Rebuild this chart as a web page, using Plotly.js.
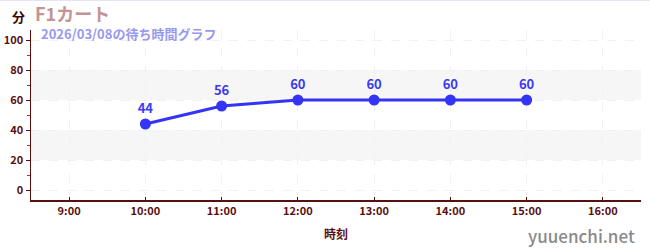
<!DOCTYPE html>
<html>
<head>
<meta charset="utf-8">
<script src="https://cdn.plot.ly/plotly-3.0.1.min.js"></script>
<style>
html,body{margin:0;padding:0;background:#fff;}
#chart{width:650px;height:250px;border-top:1px solid #e4e4f8;box-sizing:border-box;}
</style>
</head>
<body>
<div id="chart"></div>
<script>
const times = ['10:00', '11:00', '12:00', '13:00', '14:00', '15:00'];
const waits = [44, 56, 60, 60, 60, 60];
const dateStr = '2026-03-08';
const titleText = 'F1カート';
const subtitleText = '2026/03/08の待ち時間グラフ';
const yUnit = '分';
const xTitle = '時刻';
const watermark = 'yuuenchi.net';
const bands = [[20, 40], [60, 80]];

const FONT = '"Noto Sans CJK JP", "Noto Sans", sans-serif';
const AX = '#5a0f0f';
const BLUE = '#3434f5';

const xs = times.map(t => dateStr + ' ' + t);

const trace = {
  x: xs, y: waits, type: 'scatter', mode: 'lines+markers+text',
  line: {color: BLUE, width: 3},
  marker: {color: BLUE, size: 11},
  text: waits.map(String), textposition: 'top center',
  textfont: {family: FONT, size: 13, color: '#3a3af0', weight: 'bold'},
  cliponaxis: false, hoverinfo: 'skip'
};

const shapes = bands.map(b => ({
  type: 'rect', xref: 'paper', yref: 'y', x0: 0, x1: 1, y0: b[0], y1: b[1],
  fillcolor: '#f6f6f6', line: {width: 0}, layer: 'below'
}));

const layout = {
  width: 650, height: 249,
  margin: {l: 31, r: 9, t: 29, b: 50},
  paper_bgcolor: '#fff', plot_bgcolor: '#fff',
  showlegend: false,
  font: {family: FONT, color: AX},
  shapes: shapes,
  xaxis: {
    type: 'date',
    range: [dateStr + ' 08:30', dateStr + ' 16:30'],
    dtick: 3600000, tick0: dateStr + ' 09:00',
    tickformat: '%-H:%M',
    showgrid: true, gridcolor: '#f1f1f1', griddash: 'dash', gridwidth: 1,
    showline: true, linecolor: AX, linewidth: 1.5,
    ticks: 'inside', ticklen: 3, tickcolor: AX,
    tickfont: {family: FONT, size: 11, color: AX, weight: 'bold'},
    zeroline: false, fixedrange: true,
    title: {text: xTitle, font: {family: FONT, size: 12, color: AX, weight: 'bold'}, standoff: 14}
  },
  yaxis: {
    range: [-6.67, 106.67],
    tickvals: [0, 20, 40, 60, 80, 100],
    showgrid: true, gridcolor: '#f1f1f1', griddash: 'dash', gridwidth: 1,
    showline: true, linecolor: AX, linewidth: 1.5,
    ticks: 'outside', ticklen: 4, tickcolor: AX,
    tickfont: {family: FONT, size: 11, color: AX, weight: 'bold'},
    zeroline: false, fixedrange: true,
    minor: {tickvals: [10, 30, 50, 70, 90], ticks: 'outside', ticklen: 3, tickcolor: '#d42020', showgrid: false}
  },
  annotations: [
    {text: yUnit, xref: 'paper', yref: 'paper', x: -0.0, y: 1, xshift: -4, yshift: 14,
     xanchor: 'right', yanchor: 'middle', showarrow: false, font: {family: FONT, size: 13, color: '#3a0808', weight: 'bold'}},
    {text: titleText, xref: 'paper', yref: 'paper', x: 0, y: 1, xshift: 2, yshift: 17,
     xanchor: 'left', yanchor: 'middle', showarrow: false, font: {family: FONT, size: 18, color: '#c49494', weight: 'bold'}},
    {text: subtitleText, xref: 'paper', yref: 'paper', x: 0, y: 1, xshift: 8, yshift: -3,
     xanchor: 'left', yanchor: 'middle', showarrow: false, font: {family: FONT, size: 13, color: '#9898f0', weight: 'bold'}},
    {text: watermark, xref: 'paper', yref: 'paper', x: 1, y: 0, xshift: -4, yshift: -35,
     xanchor: 'right', yanchor: 'middle', showarrow: false, font: {family: FONT, size: 17, color: '#8a8a8a', weight: 500}}
  ]
};

Plotly.newPlot('chart', [trace], layout, {displayModeBar: false, staticPlot: true});
</script>
</body>
</html>
